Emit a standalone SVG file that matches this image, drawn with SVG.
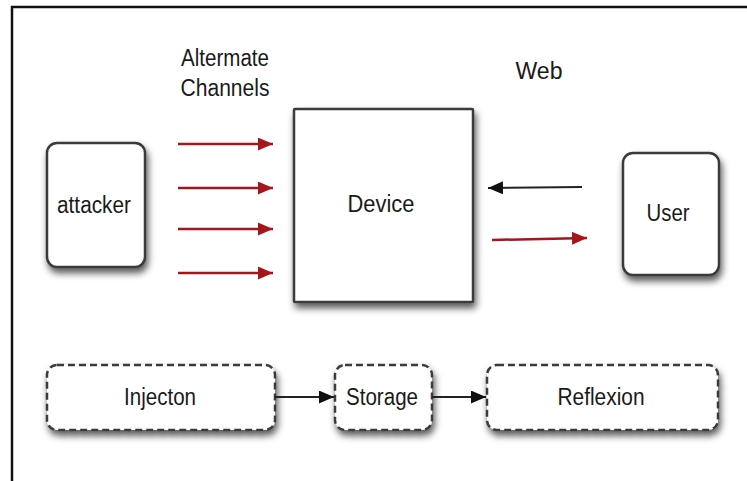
<svg xmlns="http://www.w3.org/2000/svg" width="747" height="481" viewBox="0 0 747 481">
<defs>
  <filter id="sh" x="-20%" y="-20%" width="150%" height="160%">
    <feDropShadow dx="2" dy="5" stdDeviation="3.5" flood-color="#000" flood-opacity="0.65"/>
  </filter>
  <marker id="ar" markerWidth="15" markerHeight="13" refX="15" refY="6.5" orient="auto" markerUnits="userSpaceOnUse">
    <path d="M0,0 L15,6.5 L0,13 Z" fill="#a3161b"/>
  </marker>
  <marker id="ab" markerWidth="15" markerHeight="13" refX="15" refY="6.5" orient="auto" markerUnits="userSpaceOnUse">
    <path d="M0,0 L15,6.5 L0,13 Z" fill="#111"/>
  </marker>
</defs>
<style>
  .box{fill:#fff;stroke:#3a3a3a;stroke-width:2.5;filter:url(#sh)}
  .dash{fill:#fff;stroke:#3a3a3a;stroke-width:2.5;stroke-dasharray:7 4;filter:url(#sh)}
  .t{font-family:"Liberation Sans",Arial,sans-serif;font-size:23px;fill:#1a1a1a;text-anchor:middle;dominant-baseline:central;lengthAdjust:spacingAndGlyphs}
  .red{stroke:#a3161b;stroke-width:2.5;fill:none;marker-end:url(#ar)}
  .blk{stroke:#222;stroke-width:2;fill:none;marker-end:url(#ab)}
</style>
<rect width="747" height="481" fill="#fff"/>
<g id="frame" stroke="#111" stroke-width="2.5" fill="none">
  <path d="M12,481 L12,7 L747,7"/>
</g>
<g id="labels">
  <text class="t" x="225" y="58" textLength="88" lengthAdjust="spacingAndGlyphs">Altermate</text>
  <text class="t" x="225" y="88" textLength="89" lengthAdjust="spacingAndGlyphs">Channels</text>
  <text class="t" x="539" y="71" textLength="47" lengthAdjust="spacingAndGlyphs">Web</text>
</g>
<g id="attacker">
  <rect class="box" x="47" y="143" width="98" height="124" rx="10"/>
  <text class="t" x="94" y="205" textLength="74" lengthAdjust="spacingAndGlyphs">attacker</text>
</g>
<g id="device">
  <rect class="box" x="294" y="109" width="179" height="193" rx="1"/>
  <text class="t" x="381" y="204" textLength="67" lengthAdjust="spacingAndGlyphs">Device</text>
</g>
<g id="user">
  <rect class="box" x="623" y="153" width="96" height="122" rx="10"/>
  <text class="t" x="668" y="213" textLength="43" lengthAdjust="spacingAndGlyphs">User</text>
</g>
<g id="injecton">
  <rect class="dash" x="47" y="365" width="228" height="65" rx="10"/>
  <text class="t" x="160" y="397" textLength="72" lengthAdjust="spacingAndGlyphs">Injecton</text>
</g>
<g id="storage">
  <rect class="dash" x="335" y="365" width="97" height="65" rx="10"/>
  <text class="t" x="382" y="397" textLength="72" lengthAdjust="spacingAndGlyphs">Storage</text>
</g>
<g id="reflexion">
  <rect class="dash" x="487" y="365" width="231" height="65" rx="10"/>
  <text class="t" x="601" y="397" textLength="87" lengthAdjust="spacingAndGlyphs">Reflexion</text>
</g>
<g id="connectors">
  <line class="red" x1="178" y1="144" x2="273" y2="144"/>
  <line class="red" x1="178" y1="188" x2="273" y2="188"/>
  <line class="red" x1="178" y1="229" x2="273" y2="229"/>
  <line class="red" x1="178" y1="273" x2="273" y2="273"/>
  <line class="blk" x1="582" y1="187" x2="488" y2="188"/>
  <line class="red" x1="492" y1="240" x2="587" y2="238"/>
  <line class="blk" x1="275" y1="397" x2="334" y2="397"/>
  <line class="blk" x1="432" y1="397" x2="486" y2="397"/>
</g>
</svg>
